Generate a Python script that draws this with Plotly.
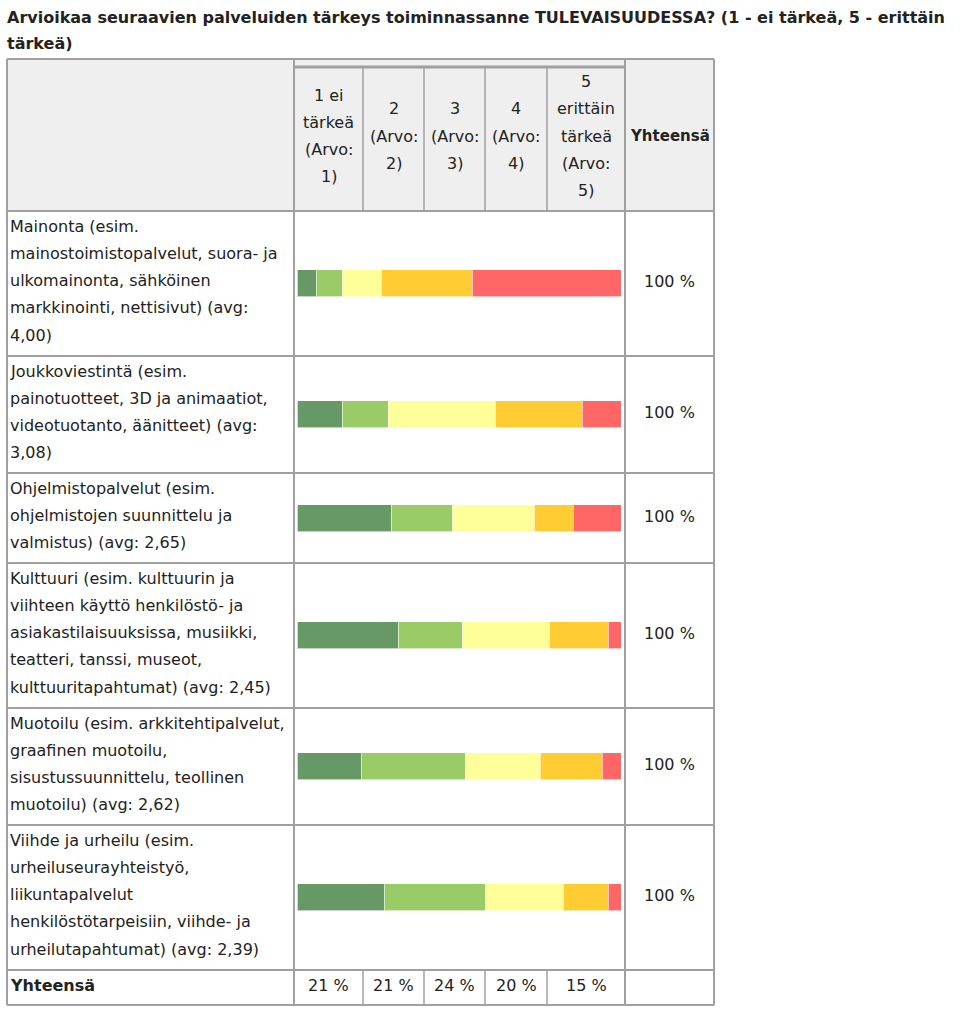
import plotly.graph_objects as go

# ---------------- data ----------------
title_lines = ["Arvioikaa seuraavien palveluiden tärkeys toiminnassanne TULEVAISUUDESSA? (1 - ei tärkeä, 5 - erittäin",
               "tärkeä)"]
column_headers = [["1 ei", "tärkeä", "(Arvo:", "1)"],
                  ["2", "(Arvo:", "2)"],
                  ["3", "(Arvo:", "3)"],
                  ["4", "(Arvo:", "4)"],
                  ["5", "erittäin", "tärkeä", "(Arvo:", "5)"]]
total_header = "Yhteensä"
row_labels = [
    ["Mainonta (esim.", "mainostoimistopalvelut, suora- ja", "ulkomainonta, sähköinen",
     "markkinointi, nettisivut) (avg:", "4,00)"],
    ["Joukkoviestintä (esim.", "painotuotteet, 3D ja animaatiot,", "videotuotanto, äänitteet) (avg:", "3,08)"],
    ["Ohjelmistopalvelut (esim.", "ohjelmistojen suunnittelu ja", "valmistus) (avg: 2,65)"],
    ["Kulttuuri (esim. kulttuurin ja", "viihteen käyttö henkilöstö- ja", "asiakastilaisuuksissa, musiikki,",
     "teatteri, tanssi, museot,", "kulttuuritapahtumat) (avg: 2,45)"],
    ["Muotoilu (esim. arkkitehtipalvelut,", "graafinen muotoilu,", "sisustussuunnittelu, teollinen",
     "muotoilu) (avg: 2,62)"],
    ["Viihde ja urheilu (esim.", "urheiluseurayhteistyö,", "liikuntapalvelut",
     "henkilöstötarpeisiin, viihde- ja", "urheilutapahtumat) (avg: 2,39)"],
]
series_names = ["1 ei tärkeä", "2", "3", "4", "5 erittäin tärkeä"]
s1 = [5.8, 13.9, 28.9, 31.1, 19.9, 27.0]
s2 = [8.1, 14.2, 19.0, 19.8, 32.1, 31.1]
s3 = [12.0, 32.9, 25.1, 26.9, 23.1, 23.9]
s4 = [28.1, 27.0, 12.1, 18.2, 18.9, 14.0]
s5 = [46.0, 12.0, 14.9, 4.0, 6.0, 4.0]
row_totals = ["100 %", "100 %", "100 %", "100 %", "100 %", "100 %"]
footer_label = "Yhteensä"
footer_values = ["21 %", "21 %", "24 %", "20 %", "15 %"]

# ---------------- layout constants ----------------
W, H = 962, 1011
FONT = "DejaVu Sans, Verdana, sans-serif"
TXT = "#222222"
GRID = "#a0a0a0"
HEADER_BG = "#efefef"
colors = ["#669966", "#99cc66", "#ffff99", "#ffcc33", "#ff6666"]

X_L, X_C1, X_C2, X_R = 7, 294, 625, 714
col_x = [294, 363, 424, 485, 547, 625]
Y_TOP, Y_HEAD_SUB, Y_HEAD_BOT = 59, 67, 211
row_y = [211, 356, 473, 563, 708, 825, 970]
Y_BOT = 1005
LINE_H = 27.3
FS = 16


def px(x):
    return x / W


fig = go.Figure()

series = [s1, s2, s3, s4, s5]
row_centers = [(row_y[i] + row_y[i + 1]) / 2 for i in range(len(row_labels))]
for name, vals, col in zip(series_names, series, colors):
    fig.add_trace(go.Bar(
        orientation="h", x=vals, y=row_centers, name=name, width=27,
        marker=dict(color=col, line=dict(color="rgba(255,255,255,0.6)", width=1)),
        hovertemplate="%{x:.1f} %<extra>" + name + "</extra>",
    ))

shapes = []
# header background
shapes.append(dict(type="rect", xref="paper", yref="y", x0=px(X_L), x1=px(X_R), y0=Y_TOP, y1=Y_HEAD_BOT,
                   fillcolor=HEADER_BG, line=dict(width=0), layer="below"))


def hline(x0, x1, y, w=2):
    shapes.append(dict(type="line", xref="paper", yref="y", x0=px(x0), x1=px(x1), y0=y, y1=y,
                       line=dict(color=GRID, width=w)))


def vline(x, y0, y1, w=2):
    shapes.append(dict(type="line", xref="paper", yref="y", x0=px(x), x1=px(x), y0=y0, y1=y1,
                       line=dict(color=GRID, width=w)))


# outer frame
hline(X_L, X_R, Y_TOP)
hline(X_L, X_R, Y_BOT)
vline(X_L, Y_TOP, Y_BOT)
vline(X_R, Y_TOP, Y_BOT)
# header sub line
hline(X_C1, X_C2, Y_HEAD_SUB, 3)
# row lines
for y in row_y:
    hline(X_L, X_R, y)
# main column lines
vline(X_C1, Y_TOP, Y_BOT)
vline(X_C2, Y_TOP, Y_BOT)
# inner columns in header and footer
for x in col_x[1:-1]:
    vline(x, Y_HEAD_SUB, Y_HEAD_BOT, 1.5)
    vline(x, row_y[-1], Y_BOT, 1.5)

ann = []


def text(x, y, s, anchor="left", bold=False, size=FS):
    ann.append(dict(xref="paper", yref="y", x=px(x), y=y, text=("<b>%s</b>" % s) if bold else s,
                    showarrow=False, xanchor=anchor, yanchor="middle",
                    font=dict(family=FONT, size=size, color=TXT)))


# title
for i, t in enumerate(title_lines):
    text(5, 17 + i * 26, t, bold=True, size=16)

# column headers
head_mid = (Y_HEAD_SUB + Y_HEAD_BOT) / 2 - 3
for i, lines in enumerate(column_headers):
    cx = (col_x[i] + col_x[i + 1]) / 2
    n = len(lines)
    for j, ln in enumerate(lines):
        text(cx, head_mid + (j - (n - 1) / 2) * LINE_H, ln, anchor="center")
text((X_C2 + X_R) / 2, head_mid, total_header, anchor="center", bold=True, size=15)

# row labels & totals
for i, lines in enumerate(row_labels):
    y0 = row_y[i]
    for j, ln in enumerate(lines):
        text(8, y0 + 15 + j * LINE_H, ln)
    text((X_C2 + X_R) / 2, row_centers[i] - 2, row_totals[i], anchor="center")

# footer
fy = (row_y[-1] + Y_BOT) / 2
text(8, fy - 2, footer_label, bold=True)
for i, v in enumerate(footer_values):
    text((col_x[i] + col_x[i + 1]) / 2, fy - 2, v, anchor="center")

fig.update_layout(
    width=W, height=H, margin=dict(l=0, r=0, t=0, b=0),
    paper_bgcolor="white", plot_bgcolor="rgba(0,0,0,0)",
    barmode="stack", showlegend=False, bargap=0,
    xaxis=dict(domain=[px(297.5), px(621.5)], range=[0, 100], visible=False, fixedrange=True),
    yaxis=dict(domain=[0, 1], range=[H, 0], visible=False, fixedrange=True),
    shapes=shapes, annotations=ann,
)

fig.write_html("out.html", config={"displayModeBar": False},
               post_script="document.body.style.margin='0';document.body.style.overflow='hidden';")
